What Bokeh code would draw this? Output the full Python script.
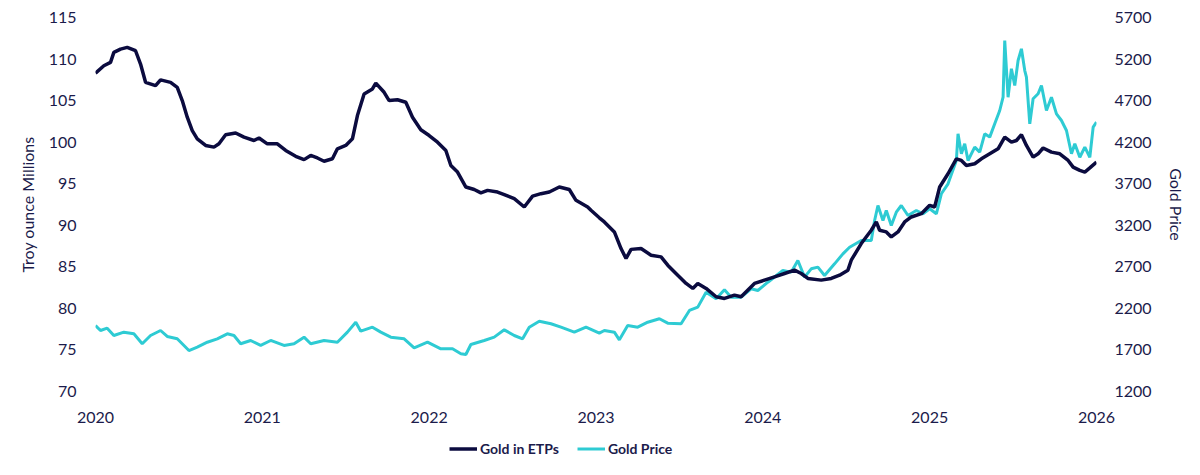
from bokeh.plotting import figure
from bokeh.models import Range1d, LinearAxis, FixedTicker, Legend, LegendItem, ColumnDataSource
from bokeh.layouts import column
from bokeh.embed import file_html
from bokeh.resources import INLINE

# ---- data (decimal year, value) ----
etp_years = [2020.00, 2020.05, 2020.09, 2020.11, 2020.15, 2020.19, 2020.24, 2020.27, 2020.30, 2020.36,
             2020.39, 2020.45, 2020.49, 2020.52, 2020.55, 2020.58, 2020.61, 2020.66, 2020.71, 2020.74,
             2020.78, 2020.84, 2020.89, 2020.95, 2020.98, 2021.03, 2021.09, 2021.14, 2021.20, 2021.25,
             2021.29, 2021.33, 2021.37, 2021.42, 2021.45, 2021.50, 2021.54, 2021.57, 2021.61, 2021.66,
             2021.68, 2021.73, 2021.76, 2021.81, 2021.86, 2021.90, 2021.95, 2022.00, 2022.05, 2022.10,
             2022.13, 2022.17, 2022.22, 2022.27, 2022.31, 2022.35, 2022.41, 2022.45, 2022.51, 2022.57,
             2022.62, 2022.67, 2022.72, 2022.78, 2022.84, 2022.88, 2022.95, 2022.97, 2023.02, 2023.05,
             2023.11, 2023.15, 2023.18, 2023.21, 2023.27, 2023.33, 2023.39, 2023.43, 2023.49, 2023.54,
             2023.58, 2023.61, 2023.66, 2023.72, 2023.77, 2023.83, 2023.87, 2023.95, 2024.01, 2024.07,
             2024.13, 2024.19, 2024.23, 2024.27, 2024.35, 2024.41, 2024.46, 2024.51, 2024.53, 2024.59,
             2024.65, 2024.68, 2024.70, 2024.74, 2024.77, 2024.81, 2024.85, 2024.89, 2024.95, 2025.00,
             2025.03, 2025.06, 2025.11, 2025.16, 2025.19, 2025.22, 2025.27, 2025.31, 2025.36, 2025.41,
             2025.45, 2025.49, 2025.52, 2025.55, 2025.58, 2025.62, 2025.65, 2025.68, 2025.73, 2025.78,
             2025.83, 2025.86, 2025.90, 2025.93, 2025.96, 2026.00]
etp_moz = [108.3, 109.2, 109.6, 110.8, 111.2, 111.4, 111.0, 109.4, 107.2, 106.8,
           107.5, 107.2, 106.6, 105.0, 103.0, 101.4, 100.4, 99.6, 99.4, 99.8,
           100.9, 101.1, 100.6, 100.2, 100.5, 99.8, 99.8, 99.0, 98.3, 97.9,
           98.4, 98.1, 97.7, 98.0, 99.2, 99.6, 100.4, 103.2, 105.8, 106.4,
           107.1, 106.0, 105.0, 105.1, 104.8, 103.0, 101.5, 100.8, 100.0, 99.0,
           97.2, 96.4, 94.6, 94.3, 93.9, 94.2, 94.0, 93.7, 93.2, 92.2,
           93.5, 93.8, 94.0, 94.6, 94.3, 93.0, 92.2, 91.8, 90.9, 90.4,
           89.2, 87.2, 86.0, 87.1, 87.2, 86.4, 86.2, 85.2, 84.0, 83.0,
           82.4, 83.0, 82.4, 81.4, 81.2, 81.6, 81.4, 83.0, 83.4, 83.8,
           84.2, 84.6, 84.2, 83.6, 83.4, 83.6, 84.0, 84.6, 85.8, 87.8,
           89.4, 90.4, 89.4, 89.2, 88.6, 89.2, 90.4, 91.0, 91.4, 92.4,
           92.2, 94.6, 96.2, 98.0, 97.8, 97.2, 97.4, 98.0, 98.6, 99.2,
           100.6, 100.0, 100.2, 100.9, 99.6, 98.2, 98.6, 99.3, 98.8, 98.6,
           97.8, 97.0, 96.6, 96.4, 96.9, 97.6]

gold_years = [2020.00, 2020.03, 2020.07, 2020.11, 2020.17, 2020.23, 2020.28, 2020.33, 2020.39, 2020.43,
              2020.49, 2020.56, 2020.61, 2020.67, 2020.73, 2020.79, 2020.83, 2020.87, 2020.93, 2020.99,
              2021.05, 2021.13, 2021.19, 2021.25, 2021.29, 2021.37, 2021.45, 2021.51, 2021.56, 2021.59,
              2021.66, 2021.71, 2021.77, 2021.85, 2021.91, 2021.99, 2022.07, 2022.14, 2022.19, 2022.22,
              2022.25, 2022.33, 2022.39, 2022.45, 2022.51, 2022.56, 2022.60, 2022.66, 2022.73, 2022.79,
              2022.87, 2022.94, 2023.02, 2023.05, 2023.11, 2023.14, 2023.19, 2023.25, 2023.31, 2023.38,
              2023.43, 2023.51, 2023.56, 2023.61, 2023.66, 2023.72, 2023.77, 2023.81, 2023.87, 2023.93,
              2023.97, 2024.03, 2024.12, 2024.17, 2024.21, 2024.25, 2024.29, 2024.33, 2024.37, 2024.43,
              2024.48, 2024.52, 2024.59, 2024.65, 2024.67, 2024.69, 2024.72, 2024.74, 2024.77, 2024.80,
              2024.83, 2024.87, 2024.92, 2024.96, 2025.00, 2025.04, 2025.07, 2025.11, 2025.16, 2025.17,
              2025.19, 2025.21, 2025.23, 2025.27, 2025.30, 2025.33, 2025.36, 2025.39, 2025.42, 2025.44,
              2025.45, 2025.47, 2025.49, 2025.51, 2025.53, 2025.55, 2025.57, 2025.58, 2025.60, 2025.62,
              2025.65, 2025.67, 2025.70, 2025.73, 2025.76, 2025.79, 2025.82, 2025.85, 2025.87, 2025.90,
              2025.93, 2025.96, 2025.98, 2026.00]
gold_usd = [1994, 1934, 1962, 1874, 1914, 1894, 1774, 1874, 1934, 1862,
            1834, 1693, 1733, 1793, 1834, 1894, 1874, 1774, 1814, 1754,
            1814, 1754, 1774, 1854, 1774, 1814, 1793, 1914, 2034, 1926,
            1974, 1914, 1854, 1834, 1726, 1793, 1714, 1714, 1654, 1645,
            1766, 1814, 1854, 1942, 1874, 1834, 1974, 2046, 2015, 1974,
            1914, 1974, 1902, 1934, 1914, 1822, 1994, 1974, 2034, 2075,
            2022, 2015, 2175, 2215, 2395, 2316, 2424, 2335, 2335, 2436,
            2415, 2515, 2656, 2636, 2776, 2576, 2676, 2696, 2596, 2736,
            2856, 2936, 3017, 3017, 3257, 3438, 3257, 3378, 3197, 3357,
            3438, 3318, 3378, 3338, 3398, 3338, 3579, 3699, 3979, 4301,
            4060, 4180, 3979, 4140, 4080, 4301, 4261, 4421, 4581, 4741,
            5423, 4741, 5083, 4882, 5183, 5323, 5062, 4982, 4421, 4722,
            4782, 4882, 4581, 4741, 4541, 4461, 4340, 4060, 4180, 4019,
            4140, 4019, 4381, 4441]

series_names = ["Gold in ETPs", "Gold Price"]
year_ticks = [2020, 2021, 2022, 2023, 2024, 2025, 2026]
left_ticks = [70, 75, 80, 85, 90, 95, 100, 105, 110, 115]
right_ticks = [1200, 1700, 2200, 2700, 3200, 3700, 4200, 4700, 5200, 5700]

NAVY = "#0b0b3f"
CYAN = "#2ecbd3"
TEXT = "#1b1b4b"
FONT = "Lato"

p = figure(width=1200, height=430, output_backend="svg", toolbar_location=None,
           x_range=Range1d(2020, 2026), y_range=Range1d(70, 115),
           min_border_left=95, min_border_right=104, min_border_top=17, min_border_bottom=39)
p.extra_y_ranges = {"price": Range1d(1200, 5700)}

p.outline_line_color = None
p.xgrid.visible = False
p.ygrid.visible = False
p.background_fill_color = "white"
p.border_fill_color = "white"

src_etp = ColumnDataSource(dict(x=etp_years, y=etp_moz))
src_gold = ColumnDataSource(dict(x=gold_years, y=gold_usd))
p.line("x", "y", source=src_gold, line_color=CYAN, line_width=3, y_range_name="price")
p.line("x", "y", source=src_etp, line_color=NAVY, line_width=3.5)

right_axis = LinearAxis(y_range_name="price")
p.add_layout(right_axis, "right")

for ax in [p.xaxis[0], p.yaxis[0], right_axis]:
    ax.axis_line_color = None
    ax.major_tick_line_color = None
    ax.minor_tick_line_color = None
    ax.major_label_text_font = FONT
    ax.major_label_text_font_size = "16px"
    ax.major_label_text_color = TEXT
    ax.axis_label_text_font = FONT
    ax.axis_label_text_font_size = "16px"
    ax.axis_label_text_font_style = "normal"
    ax.axis_label_text_color = TEXT

p.xaxis[0].ticker = FixedTicker(ticks=year_ticks)
p.xaxis[0].major_label_standoff = 14
p.yaxis[0].ticker = FixedTicker(ticks=left_ticks)
p.yaxis[0].axis_label = "Troy ounce Millions"
p.yaxis[0].major_label_standoff = 13
p.yaxis[0].axis_label_standoff = 9
right_axis.ticker = FixedTicker(ticks=right_ticks)
right_axis.axis_label = "Gold Price"
right_axis.major_label_standoff = 12
right_axis.axis_label_standoff = 12

# ---- legend strip below the chart (its frame is aligned with the chart frame) ----
lg = figure(width=1200, height=45, output_backend="svg", toolbar_location=None,
            x_range=Range1d(0, 1), y_range=Range1d(0, 1),
            min_border_left=0, min_border_right=0, min_border_top=0, min_border_bottom=0)
lg.xaxis.visible = False
lg.yaxis.visible = False
lg.xgrid.visible = False
lg.ygrid.visible = False
lg.outline_line_color = None
lg.border_fill_color = "white"
# same sources, outside this strip's ranges: only their legend swatches show
k_etp = lg.line("x", "y", source=src_etp, line_color=NAVY, line_width=3.5)
k_gold = lg.line("x", "y", source=src_gold, line_color=CYAN, line_width=3)
legend = Legend(items=[LegendItem(label=series_names[0], renderers=[k_etp]),
                       LegendItem(label=series_names[1], renderers=[k_gold])],
                orientation="horizontal", location=(354, 18),
                glyph_width=28, glyph_height=17, label_standoff=3, spacing=18,
                padding=0, margin=0, border_line_color=None, background_fill_alpha=0,
                label_text_font=FONT, label_text_font_size="14px", label_text_font_style="bold",
                label_text_color=TEXT, label_height=17)
lg.add_layout(legend)

layout = column(p, lg, spacing=0)
open("out.html", "w").write(file_html(layout, INLINE))
